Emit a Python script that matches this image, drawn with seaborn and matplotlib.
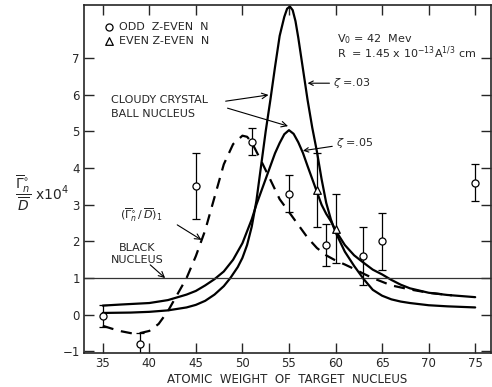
import numpy as np
import pandas as pd
import matplotlib
matplotlib.use("Agg")
import matplotlib.pyplot as plt
import seaborn as sns

# measured points, odd Z - even N
odd_a = [35, 39, 45, 51, 55, 59, 63, 65, 75]
odd_y = [-0.03, -0.8, 3.5, 4.72, 3.3, 1.9, 1.6, 2.0, 3.6]
odd_err = [0.3, 0.3, 0.9, 0.37, 0.5, 0.57, 0.78, 0.77, 0.5]

# measured points, even Z - even N
even_a = [58, 60]
even_y = [3.4, 2.35]
even_err = [1.0, 0.95]

# cloudy crystal ball, zeta = .03
z03_a = [35, 38, 40, 42, 43, 44, 45, 46, 47, 48, 48.7, 49.5, 50, 50.5, 51, 51.5, 52,
         52.5, 53, 53.5, 54, 54.5, 54.8, 55.1, 55.4, 55.7, 56, 56.5, 57, 57.5, 58,
         58.5, 59, 59.5, 60, 61, 62, 63, 64, 65, 66, 67, 68, 70, 72, 75]
z03_y = [0.05, 0.06, 0.08, 0.12, 0.16, 0.2, 0.27, 0.38, 0.55, 0.78, 1.0, 1.3, 1.55,
         1.9, 2.4, 3.1, 4.05, 5.0, 5.85, 6.75, 7.6, 8.12, 8.34, 8.4, 8.3, 8.0, 7.55,
         6.7, 5.85, 5.1, 4.45, 3.7, 3.05, 2.6, 2.25, 1.72, 1.33, 0.98, 0.68, 0.52,
         0.42, 0.36, 0.32, 0.26, 0.23, 0.2]

# cloudy crystal ball, zeta = .05
z05_a = [35, 37, 40, 42, 44, 45, 46, 47, 48, 49, 50, 51, 51.5, 52, 52.5, 53, 53.5,
         54, 54.5, 55, 55.5, 56, 56.5, 57, 57.5, 58, 58.5, 59, 59.5, 60, 61, 62, 63,
         64, 65, 66, 67, 68, 70, 72, 75]
z05_y = [0.25, 0.28, 0.32, 0.4, 0.55, 0.65, 0.8, 0.97, 1.18, 1.5, 1.95, 2.6, 3.0,
         3.35, 3.7, 4.05, 4.4, 4.68, 4.92, 5.03, 4.93, 4.7, 4.41, 4.05, 3.7, 3.35,
         3.0, 2.75, 2.55, 2.3, 1.9, 1.62, 1.42, 1.23, 1.1, 0.95, 0.82, 0.72, 0.6,
         0.54, 0.48]

# (Gamma_n / D)_1
g1_a = [35, 36, 37, 38, 39, 40, 41, 42, 43, 44, 45, 46, 47, 48, 49, 50, 50.5, 51,
        52, 53, 54, 55, 56, 57, 58, 59, 60, 61, 62, 63, 64, 65, 66, 68, 70, 72.5]
g1_y = [-0.3, -0.38, -0.45, -0.5, -0.5, -0.44, -0.25, 0.1, 0.55, 1.0, 1.6, 2.3, 3.2,
        4.1, 4.65, 4.88, 4.85, 4.7, 4.2, 3.68, 3.15, 2.8, 2.45, 2.1, 1.82, 1.62, 1.48,
        1.37, 1.25, 1.12, 1.0, 0.9, 0.8, 0.69, 0.6, 0.53]

black_level = 1.0

x_ticks = [35, 40, 45, 50, 55, 60, 65, 70, 75]
y_ticks = [-1, 0, 1, 2, 3, 4, 5, 6, 7]

sns.set_style("ticks")
plt.rcParams['font.family'] = ['DejaVu Sans']

fig = plt.figure(figsize=(4.92, 3.87), dpi=100)
ax = fig.add_axes([0.171, 0.088, 0.827, 0.899])

curve_kw = dict(color='black', linewidth=1.6, estimator=None, sort=False, legend=False)
sns.lineplot(x=z03_a, y=z03_y, ax=ax, **curve_kw)
sns.lineplot(x=z05_a, y=z05_y, ax=ax, **curve_kw)
sns.lineplot(x=g1_a, y=g1_y, ax=ax, linestyle=(0, (5, 3.5)), **curve_kw)
ax.axhline(black_level, color='#333333', linewidth=0.9)

ax.errorbar(odd_a, odd_y, yerr=odd_err, fmt='none', ecolor='black',
            elinewidth=0.9, capsize=3, capthick=0.9)
ax.errorbar(even_a, even_y, yerr=even_err, fmt='none', ecolor='black',
            elinewidth=0.9, capsize=3, capthick=0.9)
sns.scatterplot(x=odd_a, y=odd_y, ax=ax, marker='o', s=26, facecolor='white',
                edgecolor='black', linewidth=0.9, zorder=5, label='ODD  Z-EVEN  N')
sns.scatterplot(x=even_a, y=even_y, ax=ax, marker='^', s=30, facecolor='white',
                edgecolor='black', linewidth=0.9, zorder=5, label='EVEN Z-EVEN  N')

ax.set_xlim(33.0, 76.7)
ax.set_ylim(-1.04, 8.44)
ax.set_xticks(x_ticks)
ax.set_yticks(y_ticks)
ax.tick_params(direction='in', length=7, width=1, top=True, right=True,
               labelsize=8.5, pad=3)
for s in ax.spines.values():
    s.set_linewidth(1.2)

leg = ax.legend(loc='upper left', bbox_to_anchor=(0.04, 0.965), frameon=False,
                fontsize=8, handlelength=0.8, handletextpad=0.5, labelspacing=0.35,
                borderaxespad=0)

fs = 8
ax.text(60.2, 7.51, r'V$_0$ = 42  Mev', fontsize=fs, va='center')
ax.text(60.2, 7.13, r'R  = 1.45 x 10$^{-13}$A$^{1/3}$ cm', fontsize=fs, va='center')

arrow = dict(arrowstyle='->', color='black', linewidth=0.8, shrinkA=0, shrinkB=0)
ax.annotate(r'$\zeta$ =.03', xy=(57.0, 6.31), xytext=(59.7, 6.31), fontsize=fs,
            va='center', arrowprops=arrow)
ax.annotate(r'$\zeta$ =.05', xy=(56.5, 4.47), xytext=(60.0, 4.68), fontsize=fs,
            va='center', arrowprops=arrow)

ax.text(35.9, 5.85, 'CLOUDY CRYSTAL', fontsize=fs, va='center')
ax.text(35.9, 5.47, 'BALL NUCLEUS', fontsize=fs, va='center')
ax.annotate('', xy=(52.8, 5.99), xytext=(48.2, 5.82), arrowprops=arrow)
ax.annotate('', xy=(54.9, 5.14), xytext=(48.4, 5.63), arrowprops=arrow)

ax.text(36.9, 2.72, r'$(\overline{\Gamma}_n^{\circ}\,/\,\overline{D})_1$', fontsize=fs,
        va='center')
ax.annotate('', xy=(45.6, 2.04), xytext=(43.0, 2.45), arrowprops=arrow)

ax.text(38.7, 1.82, 'BLACK', fontsize=fs, va='center', ha='center')
ax.text(38.7, 1.50, 'NUCLEUS', fontsize=fs, va='center', ha='center')
ax.annotate('', xy=(41.7, 1.0), xytext=(40.1, 1.36), arrowprops=arrow)

ax.set_xlabel('ATOMIC  WEIGHT  OF  TARGET  NUCLEUS', fontsize=8.5, labelpad=2)
ax.set_ylabel('')
fig.text(0.085, 0.50, r'$\dfrac{\overline{\Gamma}_n^{\circ}}{\overline{D}}$ x10$^4$',
         fontsize=10, ha='center', va='center')

fig.savefig('out.png', dpi=100)
